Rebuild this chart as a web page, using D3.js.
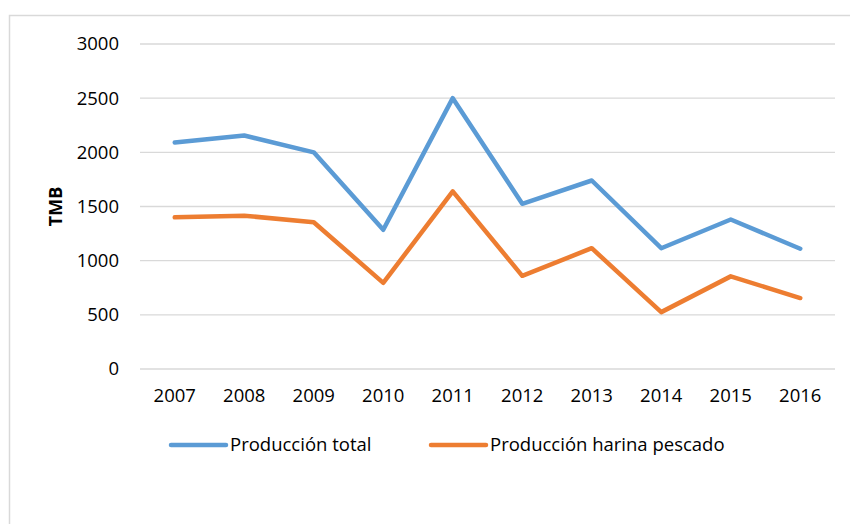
<!DOCTYPE html>
<html>
<head>
<meta charset="utf-8">
<script src="https://cdn.jsdelivr.net/npm/d3@7"></script>
<style>
  html, body { margin: 0; padding: 0; background: #fff; }
  svg { display: block; }
  text { font-family: "Open Sans", "Noto Sans", sans-serif; fill: #000; }
</style>
</head>
<body>
<svg id="chart" width="850" height="524"></svg>
<script>
// Years on the category axis
const years = ["2007", "2008", "2009", "2010", "2011", "2012", "2013", "2014", "2015", "2016"];
// Production, TMB
const produccionTotal = [2090, 2155, 2000, 1285, 2500, 1525, 1740, 1115, 1380, 1110];
const produccionHarina = [1400, 1415, 1355, 795, 1640, 860, 1115, 525, 855, 655];
// Y-axis ticks
const yTicks = [0, 500, 1000, 1500, 2000, 2500, 3000];
const seriesNames = ["Producción total", "Producción harina pescado"];
const seriesColors = ["#5B9BD5", "#ED7D31"];

const FONT = "\"Open Sans\", \"Noto Sans\", sans-serif";
const svg = d3.select("#chart");

// Outer chart frame
svg.append("rect")
  .attr("x", 9.5).attr("y", 15.5)
  .attr("width", 900).attr("height", 600)
  .attr("fill", "none").attr("stroke", "#d9d9d9").attr("stroke-width", 1.5);

const plot = { left: 140, right: 835, top: 44, bottom: 369 };

const x = d3.scaleBand().domain(years).range([plot.left, plot.right]);
const y = d3.scaleLinear().domain([0, 3000]).range([plot.bottom, plot.top]);

// Horizontal gridlines
svg.append("g").selectAll("line")
  .data(yTicks).join("line")
  .attr("x1", plot.left).attr("x2", plot.right)
  .attr("y1", d => y(d)).attr("y2", d => y(d))
  .attr("stroke", "#d9d9d9").attr("stroke-width", 1.3);

// Y axis labels
const yAxis = d3.axisLeft(y).tickValues(yTicks).tickFormat(d3.format("d")).tickSize(0).tickPadding(21);
const gy = svg.append("g").attr("transform", `translate(${plot.left},0)`).call(yAxis);
gy.select(".domain").remove();
gy.attr("font-family", null).attr("font-size", null);
gy.selectAll("text").style("font-size", "18.5px").style("font-family", FONT).attr("fill", "#000");

// X axis labels
const xAxis = d3.axisBottom(x).tickSize(0).tickPadding(20);
const gx = svg.append("g").attr("transform", `translate(0,${plot.bottom})`).call(xAxis);
gx.select(".domain").remove();
gx.attr("font-family", null).attr("font-size", null);
gx.selectAll("text").style("font-size", "18.5px").style("font-family", FONT).attr("fill", "#000");

// Y axis title
svg.append("text")
  .attr("transform", `translate(62,${(plot.top + plot.bottom) / 2}) rotate(-90)`)
  .attr("text-anchor", "middle")
  .style("font-size", "18px").style("font-weight", "bold")
  .text("TMB");

// Lines
const line = d3.line()
  .x((d, i) => x(years[i]) + x.bandwidth() / 2)
  .y(d => y(d));

[produccionTotal, produccionHarina].forEach((vals, k) => {
  svg.append("path")
    .datum(vals)
    .attr("d", line)
    .attr("fill", "none")
    .attr("stroke", seriesColors[k])
    .attr("stroke-width", 4.5)
    .attr("stroke-linejoin", "round")
    .attr("stroke-linecap", "round");
});

// Legend
const legendX = [171, 431];
legendX.forEach((lx, k) => {
  const g = svg.append("g").attr("transform", `translate(${lx},445)`);
  g.append("line")
    .attr("x1", 0).attr("x2", 55).attr("y1", 0).attr("y2", 0)
    .attr("stroke", seriesColors[k]).attr("stroke-width", 4.5)
    .attr("stroke-linecap", "round");
  g.append("text")
    .attr("x", 59).attr("y", 0).attr("dy", "0.35em")
    .style("font-size", "18.5px")
    .text(seriesNames[k]);
});
</script>
</body>
</html>
